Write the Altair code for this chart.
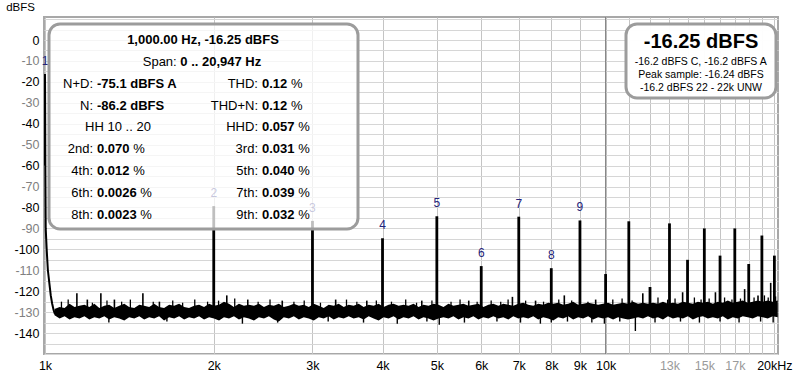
import altair as alt
import pandas as pd

FONT = "Liberation Sans"

# ---------------- data ----------------
harm_freq = [1000, 2000, 3000, 4000, 5000, 6000, 7000, 8000, 9000]
harm_level = [-16.25, -79.35, -86.4, -94.7, -84.2, -108.0, -84.4, -109.0, -86.2]
harm_label = ["1", "2", "3", "4", "5", "6", "7", "8", "9"]

high_freq = [10000, 11000, 12000, 13000, 14000, 15000, 16000, 17000, 18000, 19000, 20000]
high_level = [-111.8, -86.6, -118, -87.6, -105, -90, -103, -90, -107, -93.4, -103]

skirt_freq = [999.2, 999.7, 1000, 1000.4, 1001.5, 1003, 1007, 1012, 1018, 1024, 1030, 1036, 1042]
skirt_level = [-60, -25, -16.25, -25, -60, -90, -100, -110, -116, -122, -126, -129, -131]

noise_freq = [
    1040, 1062, 1084, 1106, 1129, 1152, 1176, 1200, 1225, 1250,
    1276, 1302, 1329, 1357, 1385, 1413, 1443, 1473, 1503, 1534,
    1566, 1598, 1631, 1665, 1700, 1735, 1771, 1807, 1845, 1883,
    1922, 1962, 2002, 2044, 2086, 2129, 2173, 2218, 2264, 2311,
    2359, 2408, 2458, 2508, 2560, 2613, 2667, 2723, 2779, 2837,
    2895, 2955, 3016, 3079, 3142, 3207, 3274, 3341, 3411, 3481,
    3553, 3627, 3702, 3779, 3857, 3937, 4018, 4101, 4186, 4273,
    4361, 4452, 4544, 4638, 4734, 4832, 4932, 5034, 5138, 5245,
    5353, 5464, 5577, 5693, 5810, 5931, 6053, 6179, 6306, 6437,
    6570, 6706, 6845, 6987, 7131, 7279, 7430, 7583, 7740, 7901,
    8064, 8231, 8401, 8575, 8753, 8934, 9119, 9308, 9500, 9697,
    9898, 10103, 10312, 10525, 10743, 10966, 11193, 11424, 11661, 11902,
    12149, 12400, 12657, 12919, 13186, 13459, 13738, 14022, 14312, 14609,
    14911, 15220, 15535, 15856, 16185, 16520, 16862, 17211, 17567, 17931,
    18302, 18681, 19067, 19462, 19865, 20276,
]
noise_hi = [
    -128.5, -127.5, -128, -126, -127.5, -127, -126.5, -127.5, -126, -128,
    -127, -126.5, -128, -127, -126, -127.5, -128, -126.5, -127, -127.5,
    -126, -127.5, -128, -126.5, -127, -126, -127.5, -128, -127, -126.5,
    -127.5, -126, -127, -126.5, -125, -126, -127.5, -126, -127, -126.5,
    -127, -126, -127.5, -126.5, -127, -126, -127.5, -127, -126, -127,
    -126.5, -127.5, -126, -127, -128, -126.5, -127, -126, -127.5, -126.5,
    -127, -126, -127.5, -126.5, -127, -126, -127.5, -126.5, -126, -127,
    -126.5, -127, -126, -127.5, -126.5, -127, -126, -126.5, -127.5, -126,
    -127, -126.5, -126, -127, -126.5, -126, -127.5, -126.5, -126, -127,
    -126, -126.5, -127, -126, -125.5, -126.5, -127, -126, -126.5, -125.5,
    -126, -125.5, -126.5, -126, -125, -126.5, -126, -125.5, -126, -126.5,
    -126, -125.5, -126.5, -126, -125.5, -126, -125, -126, -125.5, -126,
    -125.5, -126, -125, -126, -125.5, -126, -125, -125.5, -126, -125,
    -125.5, -125, -126, -125, -125.5, -124.5, -125.5, -125, -124.5, -125.5,
    -125, -124.5, -125, -124.5, -125, -124.5,
]
noise_lo = [
    -131.5, -133, -132, -133.5, -132.5, -133, -132, -133.5, -132.5, -133,
    -132, -133.5, -132.5, -133, -134, -132.5, -133, -132, -133.5, -132.5,
    -133, -132, -134, -132.5, -133, -132, -133.5, -132.5, -133, -132,
    -133.5, -132.5, -133, -134, -132.5, -133, -132, -133.5, -132.5, -133,
    -134, -132.5, -133, -132, -133.5, -134.5, -132.5, -133, -132, -133.5,
    -132.5, -133, -134, -132.5, -133, -132, -133.5, -132.5, -133, -132,
    -133, -132.5, -133.5, -132, -133, -134, -132.5, -133, -132, -133.5,
    -132.5, -133, -132, -133.5, -132.5, -133, -134, -133, -132.5, -133,
    -132, -133.5, -132.5, -133, -132, -133.5, -132.5, -133, -132, -133,
    -132.5, -133.5, -132, -133, -132.5, -133, -132, -133.5, -132.5, -133,
    -134, -132.5, -133, -132, -133.5, -132.5, -133, -132, -133.5, -132.5,
    -133, -132.5, -133.5, -132.5, -133, -133.5, -133, -132.5, -133, -132,
    -133, -132.5, -133.5, -132, -133, -132.5, -133, -132, -133.5, -132.5,
    -132, -133, -132.5, -133, -132, -133.5, -132.5, -133, -132, -132.5,
    -133, -132, -132.5, -133, -132, -132.5,
]

spur_freq = [1140, 1190, 1258, 1330, 1495, 1600, 2110, 2300, 2650, 3300, 3750, 4700,
             5700, 6820, 7500, 8440, 9600, 11650, 13720, 15700, 17700, 18700, 19700]
spur_level = [-121, -124, -121, -124, -121, -125, -122, -124, -124.5, -124, -124.5, -124.5,
              -124.5, -122.7, -124.5, -122, -124, -121, -120.5, -120.5, -119, -122, -116]

small_spur_freq = [1070, 1100, 1215, 1290, 1370, 1420, 1560, 1690, 1760, 1850, 1950, 2040,
                   2180, 2400, 2520, 2780, 2900, 3100, 3450, 3600, 3900, 4150, 4400, 4600,
                   4900, 5300, 5500, 5900, 6250, 6500, 6700, 7200, 7750, 8250, 8700, 9300,
                   10300, 10700, 11150, 12400, 12900, 13300, 14400, 14800, 15300, 16300,
                   16800, 17400, 18000, 18400, 19200, 19500, 20100]
small_spur_level = [-125, -124, -125.5, -124.5, -125, -124, -125, -124.5, -125.5, -124, -125, -124.5,
                    -123.5, -125, -124, -125, -124.5, -125.5, -124, -125, -124.5, -125, -124, -125.5,
                    -124.5, -125, -124, -125, -124.5, -125, -124, -124.5, -125, -124, -124.5, -125,
                    -124, -123.5, -124.5, -123, -124, -123.5, -123, -124, -123.5, -123,
                    -124, -123.5, -122.5, -123, -122, -123, -122.5]

dip_freq = [5050, 8000, 9950, 11300, 1300, 1650, 2250, 2600, 3200, 3700, 4250, 4800, 5600,
            6400, 7050, 7650, 8550, 9450, 10600, 12250, 13600, 14700, 16000, 17300, 18900, 19900]
dip_level = [-136, -135, -135.5, -139, -135, -134.5, -135.5, -135, -134.5, -135, -135.5, -134.5, -135,
             -134.5, -135, -135.5, -134.5, -135, -134.5, -135, -134.5, -135, -134.5, -135, -134.5, -135]

# info box texts
title_line = "1,000.00 Hz, -16.25 dBFS"
span_label = "Span: "
span_value = "0 .. 20,947 Hz"
left_labels = ["N+D:", "N:", "", "2nd:", "4th:", "6th:", "8th:"]
left_values = ["-75.1 dBFS A", "-86.2 dBFS", "", "0.070", "0.012", "0.0026", "0.0023"]
left_units = ["", "", "", "%", "%", "%", "%"]
hh_text = "HH 10 .. 20"
right_labels = ["THD:", "THD+N:", "HHD:", "3rd:", "5th:", "7th:", "9th:"]
right_values = ["0.12", "0.12", "0.057", "0.031", "0.040", "0.039", "0.032"]
level_big = "-16.25 dBFS"
level_lines = ["-16.2 dBFS C, -16.2 dBFS A", "Peak sample: -16.24 dBFS", "-16.2 dBFS 22 - 22k UNW"]

x_tick_values = [1000, 2000, 3000, 4000, 5000, 6000, 7000, 8000, 9000, 10000,
                 11000, 12000, 13000, 14000, 15000, 16000, 17000, 18000, 19000, 20000]
y_tick_values = list(range(-150, 11, 5))
decade_line = [10000]

# ---------------- layout helpers ----------------
PL, PT = 44, 17
W, H = 734, 337

REG = {" ": 278, "%": 889, ",": 278, "-": 333, ".": 278, ":": 278, "+": 584}
BOLD = {" ": 278, "%": 889, ",": 278, "-": 333, ".": 278, ":": 333, "+": 584,
        "A": 722, "B": 722, "C": 722, "D": 722, "F": 611, "H": 722, "S": 667,
        "d": 611, "z": 500}
REG.update({"A": 667, "B": 667, "C": 722, "D": 722, "F": 611, "H": 722, "N": 722,
            "S": 667, "T": 611, "U": 722, "W": 944, "P": 667, "a": 556, "d": 556,
            "e": 556, "k": 500, "l": 222, "m": 833, "n": 556, "p": 556, "r": 333,
            "s": 500, "t": 278, "z": 500, "h": 556})


def tw(s, bold, size):
    tab = BOLD if bold else REG
    return sum(tab.get(c, 556) for c in s) * size / 1000.0


one = pd.DataFrame({"a": [0]})


def txt(s, x, y, size=13, bold=False, align="left", color="black"):
    return alt.Chart(one).mark_text(
        text=s, align=align, baseline="middle", font=FONT, fontSize=size,
        fontWeight="bold" if bold else "normal", color=color,
    ).encode(x=alt.value(x - PL), y=alt.value(y - PT))


def rich_center(segs, cx, y, size=13):
    total = sum(tw(s, b, size) for s, b in segs)
    x = cx - total / 2
    out = []
    for s, b in segs:
        out.append(txt(s, x, y, size, b))
        x += tw(s, b, size)
    return out


def box(x1, y1, x2, y2, op):
    return alt.Chart(one).mark_rect(
        fill="white", fillOpacity=op, stroke="#9c9c9c", strokeWidth=3, cornerRadius=11
    ).encode(x=alt.value(x1 - PL), x2=alt.value(x2 - PL), y=alt.value(y1 - PT), y2=alt.value(y2 - PT))


# ---------------- scales / axes ----------------
xscale = alt.Scale(type="log", domain=[996, 20300], nice=False)
yscale = alt.Scale(domain=[-150, 11], nice=False, zero=False)

xaxis = alt.Axis(
    values=x_tick_values, title=None, grid=True, ticks=False, domain=False,
    labelExpr="datum.value == 20000 ? '20kHz' : ((datum.value <= 10000 || datum.value == 13000 || datum.value == 15000 || datum.value == 17000) ? (datum.value / 1000) + 'k' : '')",
    labelColor={"condition": {"test": "datum.value == 13000 || datum.value == 15000 || datum.value == 17000", "value": "#9a9a9a"}, "value": "#000000"},
    gridColor="#c4c4c4",
    labelFont=FONT, labelFontSize=12.5, labelPadding=5, labelOverlap=False, labelFlush=False,
)
yaxis = alt.Axis(
    values=y_tick_values, grid=True, ticks=False, domain=False, gridColor="#d6d6d6",
    labelExpr="(datum.value % 10 == 0 && datum.value <= 0 && datum.value >= -140) ? datum.value : ''",
    labelColor={"condition": {"test": "datum.value % 20 != 0", "value": "#808080"}, "value": "#000000"},
    labelFont=FONT, labelFontSize=12.5, labelPadding=5, labelOverlap=False, labelFlush=False,
    title="dBFS", titleAngle=0, titleX=-24, titleY=-10, titleAlign="center", titleBaseline="middle",
    titleFont=FONT, titleFontSize=11.5, titleFontWeight="normal", titleColor="#000000",
)


def X(field):
    return alt.X(field, type="quantitative", scale=xscale, axis=xaxis)


def Y(field):
    return alt.Y(field, type="quantitative", scale=yscale, axis=yaxis)


noise_df = pd.DataFrame({"f": noise_freq, "hi": noise_hi, "lo": noise_lo})
skirt_df = pd.DataFrame({"f": skirt_freq, "db": skirt_level})
harm_df = pd.DataFrame({"f": harm_freq, "db": harm_level, "lab": harm_label, "base": -130})
high_df = pd.DataFrame({"f": high_freq, "db": high_level, "base": -130})
spur_df = pd.DataFrame({"f": spur_freq, "db": spur_level, "base": -130})
small_df = pd.DataFrame({"f": small_spur_freq, "db": small_spur_level, "base": -129})
dip_df = pd.DataFrame({"f": dip_freq, "db": dip_level, "base": -131})
dec_df = pd.DataFrame({"f": decade_line, "top": [11], "bot": [-150]})

decade = alt.Chart(dec_df).mark_rule(color="#7c7c7c", strokeWidth=1).encode(x=X("f"), y=Y("top"), y2="bot")
noise = alt.Chart(noise_df).mark_area(color="black", clip=True).encode(x=X("f"), y=Y("hi"), y2="lo")
skirt = alt.Chart(skirt_df).mark_line(color="black", strokeWidth=2, clip=True).encode(x=X("f"), y=Y("db"))
spurs = alt.Chart(spur_df).mark_rule(color="black", strokeWidth=1.6, clip=True).encode(x=X("f"), y=Y("db"), y2="base")
small = alt.Chart(small_df).mark_rule(color="black", strokeWidth=1.3, clip=True).encode(x=X("f"), y=Y("db"), y2="base")
dips = alt.Chart(dip_df).mark_rule(color="black", strokeWidth=1.4, clip=True).encode(x=X("f"), y=Y("db"), y2="base")
harm = alt.Chart(harm_df[harm_df.f > 1000]).mark_rule(color="black", strokeWidth=2.8, clip=True).encode(x=X("f"), y=Y("db"), y2="base")
high = alt.Chart(high_df).mark_rule(color="black", strokeWidth=2.8, clip=True).encode(x=X("f"), y=Y("db"), y2="base")
labels = alt.Chart(harm_df).mark_text(
    color="#23237a", font=FONT, fontSize=12, dy=-13, baseline="middle"
).encode(x=X("f"), y=Y("db"), text="lab:N")

layers = [decade, noise, skirt, spurs, small, dips, harm, high, labels]

# left info box
layers.append(box(49, 24, 358, 229, 0.75))
layers += rich_center([(title_line, True)], 203, 40)
layers += rich_center([(span_label, False), (span_value, True)], 202, 62)
rows_y = [84, 105.5, 127, 149, 171, 193, 215]
for i, y in enumerate(rows_y):
    if left_labels[i]:
        layers.append(txt(left_labels[i], 93, y, align="right"))
        layers.append(txt(left_values[i], 97, y, bold=True))
        if left_units[i]:
            layers.append(txt(left_units[i], 97 + tw(left_values[i] + " ", True, 13), y))
    else:
        layers += rich_center([(hh_text, False)], 118, y)
    layers.append(txt(right_labels[i], 258, y, align="right"))
    layers.append(txt(right_values[i], 262, y, bold=True))
    layers.append(txt("%", 262 + tw(right_values[i] + " ", True, 13), y))

# right level box
layers.append(box(626, 24, 776, 98, 0.97))
layers += rich_center([(level_big, True)], 701, 42, size=20)
for j, s in enumerate(level_lines):
    layers += rich_center([(s, False)], 701, [62, 75, 87.5][j], size=10.5)

chart = alt.layer(*layers).properties(
    width=W, height=H,
    autosize=alt.AutoSizeParams(type="none"),
    padding={"left": PL, "top": PT, "right": 800 - PL - W, "bottom": 378 - PT - H},
    background="white",
).configure_view(stroke="#a8a8a8", strokeWidth=2)

chart.save("out.html", embed_options={"renderer": "svg", "actions": False})
